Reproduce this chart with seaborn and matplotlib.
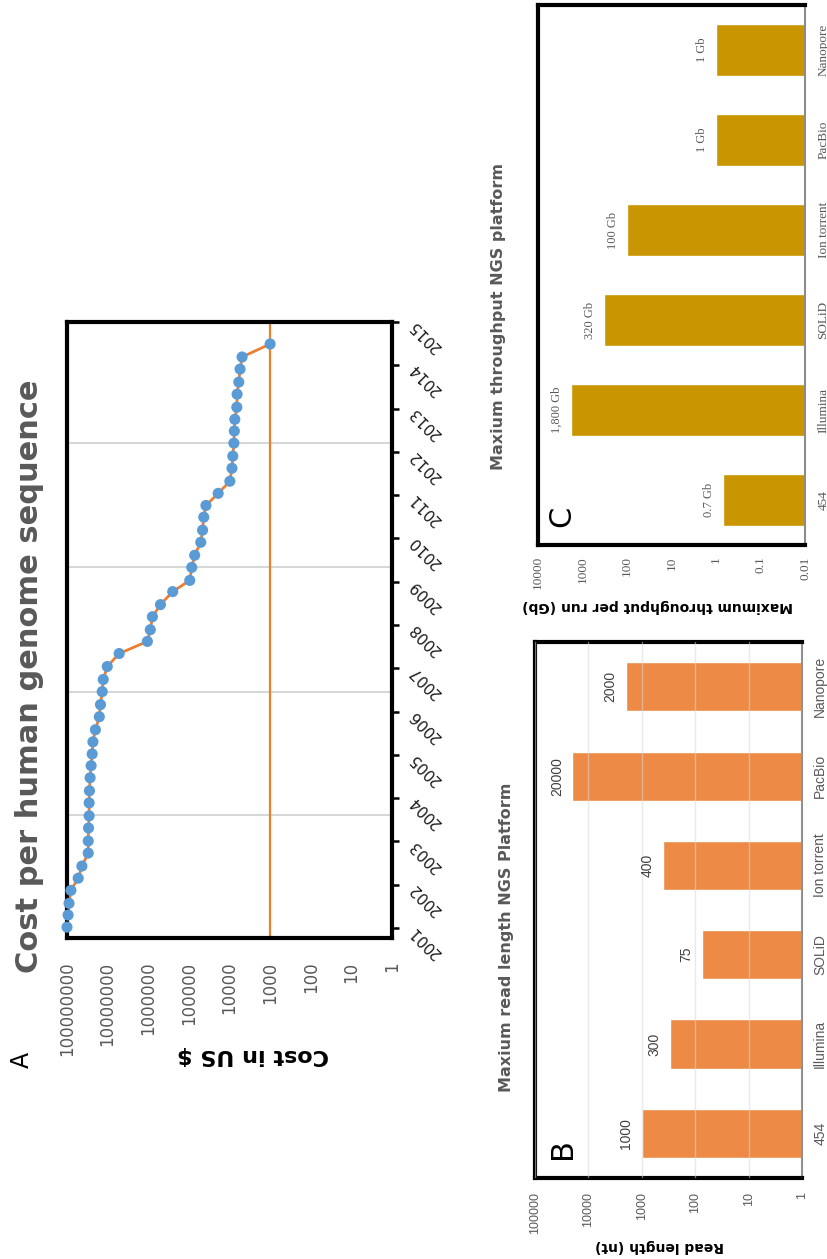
import matplotlib
matplotlib.use('Agg')
import matplotlib.pyplot as plt
from matplotlib.ticker import NullLocator
import seaborn as sns

# Panel A - cost per human genome
years = [2001.02, 2001.30, 2001.57, 2001.87, 2002.15, 2002.43, 2002.73, 2003.01,
         2003.31, 2003.59, 2003.89, 2004.17, 2004.47, 2004.75, 2005.02, 2005.30,
         2005.58, 2005.88, 2006.16, 2006.46, 2006.74, 2007.04, 2007.34, 2007.62,
         2007.89, 2008.19, 2008.47, 2008.77, 2009.03, 2009.33, 2009.61, 2009.91,
         2010.19, 2010.49, 2010.76, 2011.04, 2011.32, 2011.62, 2011.90, 2012.20,
         2012.48, 2012.75, 2013.03, 2013.33, 2013.61, 2013.91, 2014.19, 2014.49]
cost_usd = [1.0e8, 9.4e7, 8.9e7, 8.0e7, 5.3e7, 4.3e7, 3.0e7, 3.0e7,
            2.95e7, 2.85e7, 2.85e7, 2.8e7, 2.7e7, 2.55e7, 2.4e7, 2.3e7,
            2.0e7, 1.6e7, 1.5e7, 1.36e7, 1.28e7, 1.02e7, 5.2e6, 1.05e6,
            8.9e5, 7.9e5, 5.0e5, 2.5e5, 9.5e4, 8.5e4, 7.2e4, 5.1e4,
            4.6e4, 4.3e4, 3.8e4, 1.9e4, 9.8e3, 8.7e3, 8.3e3, 7.8e3,
            7.6e3, 7.4e3, 6.6e3, 6.5e3, 5.9e3, 5.5e3, 4.9e3, 1.0e3]
target_cost = 1000
year_ticks = list(range(2001, 2016))
grid_years = [2003.6, 2006.45, 2009.33, 2012.2]
cost_ticks = [1e8, 1e7, 1e6, 1e5, 1e4, 1e3, 1e2, 10, 1]
cost_tick_labels = ['100000000', '10000000', '1000000', '100000', '10000',
                    '1000', '100', '10', '1']

# Panels B and C - NGS platforms
platforms = ['454', 'Illumina', 'SOLiD', 'Ion torrent', 'PacBio', 'Nanopore']
read_length = [1000, 300, 75, 400, 20000, 2000]
read_length_labels = ['1000', '300', '75', '400', '20000', '2000']
read_ticks = [1e5, 1e4, 1e3, 100, 10, 1]
read_tick_labels = ['100000', '10000', '1000', '100', '10', '1']

throughput_gb = [0.7, 1800, 320, 100, 1, 1]
throughput_labels = ['0.7 Gb', '1,800 Gb', '320 Gb', '100 Gb', '1 Gb', '1 Gb']
tp_ticks = [1e4, 1e3, 100, 10, 1, 0.1, 0.01]
tp_tick_labels = ['10000', '1000', '100', '10', '1', '0.1', '0.01']

BLUE = '#5B9BD5'
ORANGE = '#ED7D31'
BAR_ORANGE = '#ED8A45'
GOLD = '#C99500'
GREY = '#595959'

sns.set_theme(style='white')
plt.rcParams['font.family'] = ['DejaVu Sans']

fig = plt.figure(figsize=(8.27, 12.59), dpi=100)
axA = fig.add_axes([0.0810, 0.2550, 0.3930, 0.4893])
axB = fig.add_axes([0.6469, 0.0643, 0.3229, 0.4257])
axC = fig.add_axes([0.6505, 0.5671, 0.3229, 0.4289])

# ---- Panel A
axA.set_xscale('log')
sns.lineplot(x=cost_usd, y=years, sort=False, estimator=None, color=ORANGE,
             lw=2, ax=axA, zorder=2)
sns.scatterplot(x=cost_usd, y=years, s=64, color=BLUE, edgecolor='none',
                ax=axA, zorder=3, clip_on=False)
axA.axvline(target_cost, color=ORANGE, lw=1.6, zorder=1.5)
axA.set_xlim(1e8, 1)
axA.set_ylim(2000.77, 2015)

axA.set_xticks(cost_ticks, cost_tick_labels)
axA.xaxis.set_minor_locator(NullLocator())
axA.tick_params(axis='x', length=0, pad=17, labelsize=12, labelcolor=GREY,
                labelrotation=90)

axA.yaxis.tick_right()
axA.set_yticks(year_ticks, [str(y) for y in year_ticks])
axA.set_yticks(grid_years, minor=True)
axA.tick_params(axis='y', which='major', direction='out', length=5, width=1.8,
                color='black', pad=9, labelsize=11, labelcolor='#1a1a1a')
axA.tick_params(axis='y', which='minor', length=0)
for lab in axA.get_yticklabels():
    lab.set_rotation(135)
    lab.set_rotation_mode('anchor')
    lab.set_ha('right')
    lab.set_va('center')
axA.grid(axis='y', which='minor', color='#d0d0d0', lw=1.2)
for sp in axA.spines.values():
    sp.set_color('black')
    sp.set_linewidth(3)
axA.set_xlabel('Cost in US $', rotation=180, fontsize=16, fontweight='bold',
               color='black', va='center')
axA.xaxis.set_label_coords(0.572, -0.19)

fig.text(30 / 827, 1 - 676 / 1259, 'Cost per human genome sequence', rotation=90,
         fontsize=22, fontweight='bold', color=GREY, ha='center', va='center')
fig.text(22 / 827, 1 - 1060 / 1259, 'A', rotation=90, fontsize=17,
         color='black', ha='center', va='center')


def platform_bars(ax, values, labels, color, width, ticks, tick_labels,
                  family, label_color, label_size):
    order = platforms[::-1]
    ax.set_xscale('log')
    sns.barplot(x=values, y=platforms, order=order, orient='y', color=color,
                saturation=1, width=width, errorbar=None, ax=ax)
    ax.set_xlim(ticks[0], ticks[-1])
    ax.set_ylim(5.5, -0.5)
    ordered = [labels[platforms.index(p)] for p in order]
    ax.bar_label(ax.containers[0], labels=ordered, padding=6, rotation=90,
                 fontsize=label_size, color=label_color, family=family)
    ax.set_xticks(ticks, tick_labels)
    ax.xaxis.set_minor_locator(NullLocator())
    ax.yaxis.tick_right()
    ax.set_ylabel('')
    for lab in ax.get_xticklabels():
        lab.set_family(family)
    for lab in ax.get_yticklabels():
        lab.set_family(family)
        lab.set_rotation(90)
        lab.set_va('center')
    for name in ['left', 'top', 'bottom']:
        ax.spines[name].set_color('black')
        ax.spines[name].set_linewidth(3)
    ax.spines['right'].set_color('#8c8c8c')
    ax.spines['right'].set_linewidth(1.5)


# ---- Panel B
platform_bars(axB, read_length, read_length_labels, BAR_ORANGE, 0.55,
              read_ticks, read_tick_labels, 'Liberation Sans', '#404040', 10)
axB.tick_params(axis='x', length=0, pad=10, labelsize=9, labelcolor=GREY,
                labelrotation=90)
axB.tick_params(axis='y', length=0, pad=8, labelsize=10, labelcolor=GREY)
axB.grid(axis='x', which='major', color='#d8d8d8', alpha=0.55, lw=1)
axB.set_axisbelow(False)
axB.set_xlabel('Read length (nt)', rotation=180, fontsize=10, fontweight='bold',
               color='black', va='center')
axB.xaxis.set_label_coords(0.468, -0.127)
fig.text(507 / 827, 1 - 937 / 1259, 'Maxium read length NGS Platform',
         rotation=90, fontsize=11.5, fontweight='bold', color=GREY,
         ha='center', va='center')
fig.text(562 / 827, 1 - 1149 / 1259, 'B', rotation=90, fontsize=22,
         color='black', ha='center', va='center')

# ---- Panel C
platform_bars(axC, throughput_gb, throughput_labels, GOLD, 0.58,
              tp_ticks, tp_tick_labels, 'Liberation Serif', GREY, 9)
axC.tick_params(axis='x', length=0, pad=8, labelsize=9.5, labelcolor=GREY,
                labelrotation=90)
axC.tick_params(axis='y', length=0, pad=9, labelsize=9.5, labelcolor=GREY)
axC.grid(False)
axC.set_xlabel('Maximum throughput per run (Gb)', rotation=180, fontsize=10,
               fontweight='bold', color='black', va='center')
axC.xaxis.set_label_coords(0.446, -0.113)
fig.text(498 / 827, 1 - 316 / 1259, 'Maxium throughput NGS platform',
         rotation=90, fontsize=11.5, fontweight='bold', color=GREY,
         ha='center', va='center')
fig.text(562 / 827, 1 - 516 / 1259, 'C', rotation=90, fontsize=22,
         color='black', ha='center', va='center')

fig.savefig('out.png', dpi=100)
